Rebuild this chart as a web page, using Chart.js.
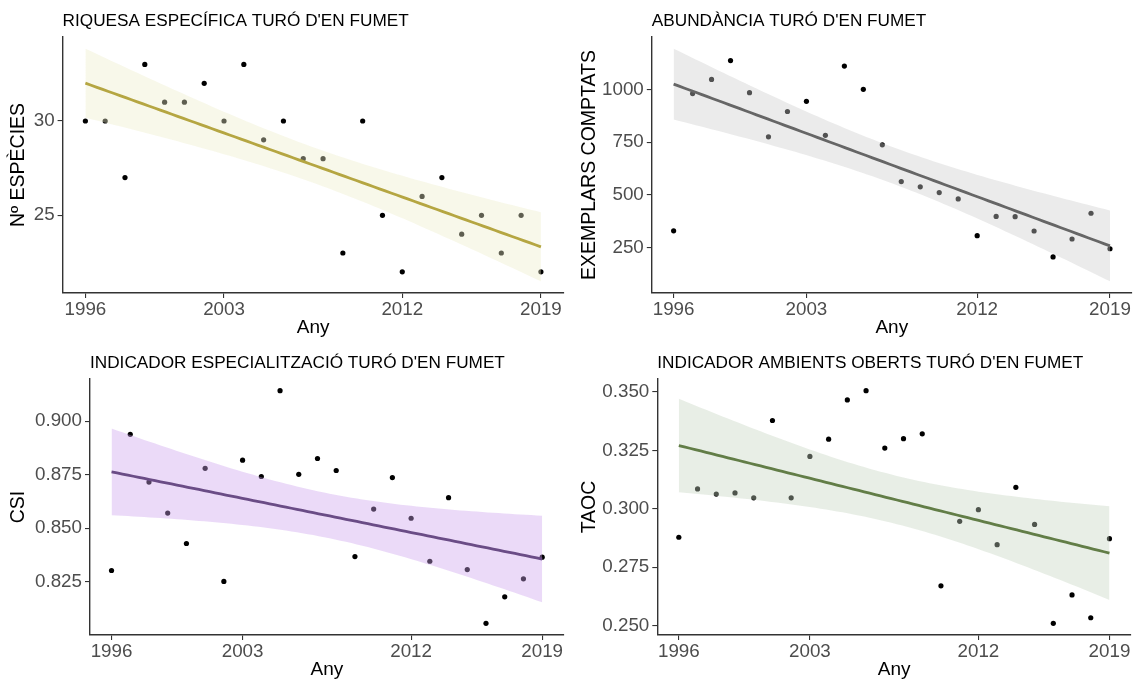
<!DOCTYPE html>
<html><head><meta charset="utf-8">
<script src="https://cdn.jsdelivr.net/npm/chart.js@4.4.1/dist/chart.umd.min.js"></script>
<style>
body{margin:0;background:#fff;width:1142px;height:684px;overflow:hidden;position:relative;}
.p{position:absolute;width:571px;height:342px;}
canvas{display:block;}
</style>
</head><body>
<div class="p" style="left:0;top:0"><canvas id="c1" width="571" height="342"></canvas></div>
<div class="p" style="left:571px;top:0"><canvas id="c2" width="571" height="342"></canvas></div>
<div class="p" style="left:0;top:342px"><canvas id="c3" width="571" height="342"></canvas></div>
<div class="p" style="left:571px;top:342px"><canvas id="c4" width="571" height="342"></canvas></div>
<script>
// ---- data ----
const years = [1996,1997,1998,1999,2000,2001,2002,2003,2004,2005,2006,2007,2008,2009,2010,2011,2012,2013,2014,2015,2016,2017,2018,2019];
const riquesa = [30,30,27,33,31,31,32,30,33,29,30,28,28,23,30,25,22,26,27,24,25,23,25,22];
const abundancia = [330,980,1047,1136,984,775,895,943,782,1110,1000,737,563,538,511,481,307,398,397,329,206,291,413,245];
const csi = [0.8303,0.8939,0.8716,0.8571,0.8429,0.8780,0.8252,0.8818,0.8742,0.9143,0.8752,0.8826,0.8770,0.8368,0.8590,0.8737,0.8547,0.8346,0.8643,0.8307,0.8056,0.8180,0.8264,0.8365];
const taoc = [0.2878,0.3085,0.3063,0.3068,0.3047,0.3378,0.3047,0.3224,0.3298,0.3466,0.3506,0.3260,0.3300,0.3321,0.2670,0.2946,0.2996,0.2846,0.3092,0.2933,0.2509,0.2631,0.2533,0.2872];

const xTickLabels = [1996, 2003, 2012, 2019];
const ticksRiquesa = [25, 30];
const ticksAbundancia = [250, 500, 750, 1000];
const ticksCsi = [0.825, 0.850, 0.875, 0.900];
const ticksTaoc = [0.250, 0.275, 0.300, 0.325, 0.350];

const titles = ["RIQUESA ESPECÍFICA TURÓ D'EN FUMET", "ABUNDÀNCIA TURÓ D'EN FUMET", "INDICADOR ESPECIALITZACIÓ TURÓ D'EN FUMET", "INDICADOR AMBIENTS OBERTS TURÓ D'EN FUMET"];
const yTitles = ["Nº ESPÈCIES", "EXEMPLARS COMPTATS", "CSI", "TAOC"];
const xTitle = "Any";

// ---- linear model with 95% confidence band (like geom_smooth(method='lm')) ----
const T975 = 2.0739; // qt(0.975, df = 22)
function lmBand(xs, ys) {
  const n = xs.length;
  const mx = xs.reduce((a, b) => a + b, 0) / n;
  const my = ys.reduce((a, b) => a + b, 0) / n;
  let sxx = 0, sxy = 0;
  for (let i = 0; i < n; i++) { sxx += (xs[i] - mx) ** 2; sxy += (xs[i] - mx) * (ys[i] - my); }
  const b = sxy / sxx, a = my - b * mx;
  let sse = 0;
  for (let i = 0; i < n; i++) sse += (ys[i] - a - b * xs[i]) ** 2;
  const s = Math.sqrt(sse / (n - 2));
  const x0 = Math.min(...xs), x1 = Math.max(...xs);
  const fitPts = [], up = [], lo = [];
  const m = 80;
  for (let k = 0; k < m; k++) {
    const x = x0 + (x1 - x0) * k / (m - 1);
    const yh = a + b * x;
    const se = s * Math.sqrt(1 / n + (x - mx) ** 2 / sxx);
    fitPts.push({x, y: yh});
    up.push({x, y: yh + T975 * se});
    lo.push({x, y: yh - T975 * se});
  }
  return {fitPts, up, lo};
}

const titlePlugin = {
  id: 'ptitle',
  afterDraw(chart, args, opts) {
    const ctx = chart.ctx;
    ctx.save();
    ctx.font = opts.font;
    ctx.fillStyle = '#000';
    ctx.textBaseline = 'alphabetic';
    ctx.textAlign = 'left';
    ctx.fillText(opts.text, chart.chartArea.left, opts.y);
    ctx.restore();
  }
};

const FONT = "'Liberation Sans', Arial, sans-serif";

function makePanel(cfg) {
  const ys = cfg.values;
  const band = lmBand(years, ys);
  const allY = ys.concat(band.up.map(p => p.y), band.lo.map(p => p.y));
  const ymin = Math.min(...allY), ymax = Math.max(...allY);
  const yexp = (ymax - ymin) * 0.05;
  const xexp = (years[years.length - 1] - years[0]) * 0.05;
  const pts = years.map((x, i) => ({x, y: ys[i]}));

  new Chart(document.getElementById(cfg.id), {
    type: 'scatter',
    data: {
      datasets: [
        {data: band.fitPts, showLine: true, borderColor: cfg.line, borderWidth: 2.8, pointRadius: 0, fill: false, order: 0, tension: 0},
        {data: band.up, showLine: true, borderWidth: 0, borderColor: 'rgba(0,0,0,0)', pointRadius: 0, backgroundColor: cfg.band, fill: '+1', order: 1},
        {data: band.lo, showLine: true, borderWidth: 0, borderColor: 'rgba(0,0,0,0)', pointRadius: 0, fill: false, order: 1},
        {data: pts, pointRadius: 2.6, pointBackgroundColor: '#000', pointBorderWidth: 0, order: 2}
      ]
    },
    options: {
      responsive: false,
      animation: false,
      devicePixelRatio: 1,
      events: [],
      layout: {padding: {left: 0, right: cfg.padR, top: 37, bottom: 0}},
      plugins: {
        legend: {display: false},
        tooltip: {enabled: false},
        ptitle: {text: cfg.title, font: "17.2px " + FONT, y: 26}
      },
      scales: {
        x: {
          type: 'linear',
          min: years[0] - xexp,
          max: years[years.length - 1] + xexp,
          afterBuildTicks: (s) => { s.ticks = xTickLabels.map(v => ({value: v})); },
          afterFit: (s) => { s.height = 49; s.paddingLeft = 0; s.paddingRight = 0; },
          ticks: {color: '#4d4d4d', font: {family: FONT, size: 18.8}, padding: 1, callback: (v) => String(v), maxRotation: 0, autoSkip: false},
          grid: {display: true, drawOnChartArea: false, drawTicks: true, tickLength: 5, color: '#333', lineWidth: 1.1},
          border: {display: true, color: '#333', width: 1.4},
          title: {display: true, text: xTitle, color: '#000', font: {family: FONT, size: 19}, padding: {top: 0, bottom: 2.6}}
        },
        y: {
          type: 'linear',
          min: ymin - yexp,
          max: ymax + yexp,
          afterBuildTicks: (s) => { s.ticks = cfg.ticks.map(v => ({value: v})); },
          afterFit: (s) => { s.width = cfg.yW; s.paddingTop = 0; s.paddingBottom = 0; },
          ticks: {color: '#4d4d4d', font: {family: FONT, size: 18.8}, padding: 3, callback: (v) => v.toFixed(cfg.dec), autoSkip: false},
          grid: {display: true, drawOnChartArea: false, drawTicks: true, tickLength: 5, color: '#333', lineWidth: 1.1},
          border: {display: true, color: '#333', width: 1.4},
          title: {display: true, text: cfg.ytitle, color: '#000', font: {family: FONT, size: 19.5}, padding: {top: 6.5, bottom: 0}}
        }
      }
    },
    plugins: [titlePlugin]
  });
}

makePanel({id: 'c1', title: titles[0], ytitle: yTitles[0], values: riquesa, ticks: ticksRiquesa, dec: 0,
  line: '#b5a642', band: 'rgba(238,238,203,0.4)', yW: 62.6, padR: 7.3});
makePanel({id: 'c2', title: titles[1], ytitle: yTitles[1], values: abundancia, ticks: ticksAbundancia, dec: 0,
  line: '#666666', band: 'rgba(205,205,205,0.4)', yW: 80.8, padR: 10.2});
makePanel({id: 'c3', title: titles[2], ytitle: yTitles[2], values: csi, ticks: ticksCsi, dec: 3,
  line: '#6a4c86', band: 'rgba(205,163,238,0.4)', yW: 90, padR: 7.3});
makePanel({id: 'c4', title: titles[3], ytitle: yTitles[3], values: taoc, ticks: ticksTaoc, dec: 3,
  line: '#627d47', band: 'rgba(198,213,193,0.4)', yW: 86.3, padR: 11});
</script>
</body></html>
